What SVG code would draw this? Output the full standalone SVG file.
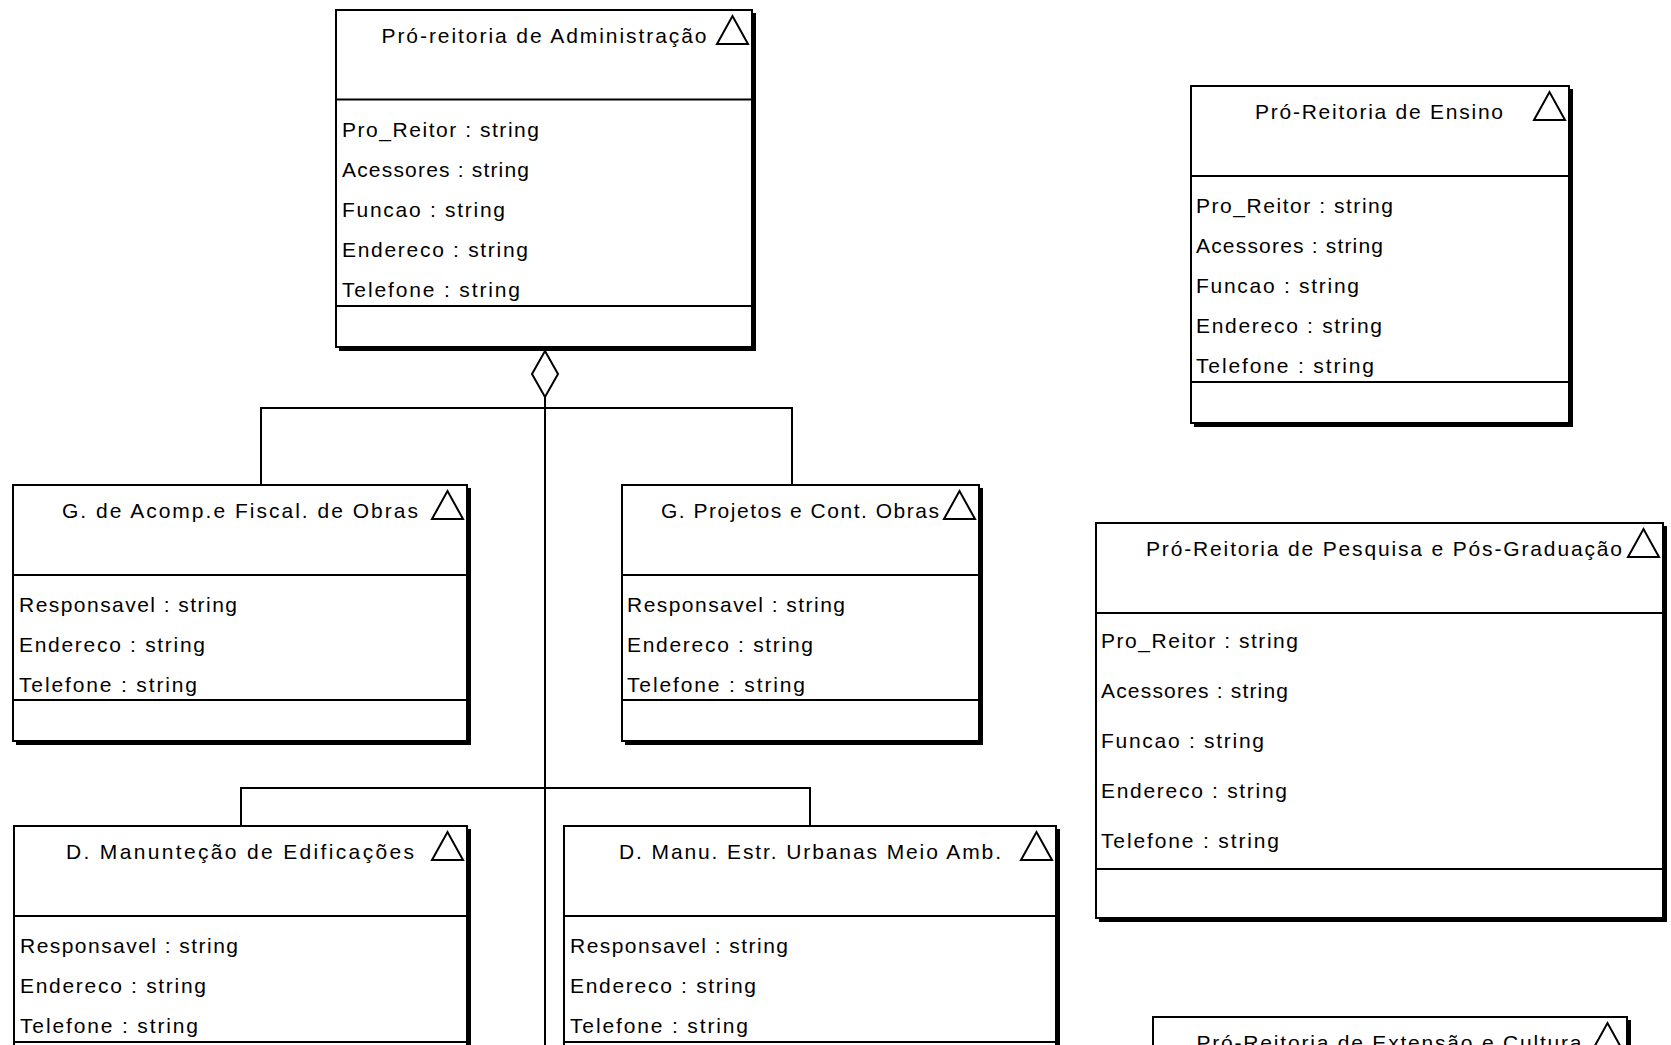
<svg xmlns="http://www.w3.org/2000/svg" width="1671" height="1045" viewBox="0 0 1671 1045">
<style>
.bg{fill:#fff}
.box{fill:#fff;stroke:#000;stroke-width:2}
.sh{fill:none;stroke:#000;stroke-width:3}
.sep{stroke:#000;stroke-width:2}
.tri{fill:none;stroke:#000;stroke-width:2;stroke-linejoin:miter}
.t{font-family:"Liberation Sans",Arial,sans-serif;font-size:21px;fill:#000}
.ti{text-anchor:middle}
.con{fill:none;stroke:#000;stroke-width:2}
.dia{fill:#fff;stroke:#000;stroke-width:2}
</style>
<rect class="bg" x="0" y="0" width="1671" height="1045"/>

<g id="connectors">
  <line class="con" x1="545" y1="397" x2="545" y2="1046"/>
  <polyline class="con" points="261,485 261,408 792,408 792,485"/>
  <polyline class="con" points="241,826 241,788 810,788 810,826"/>
  <polygon class="dia" points="545,351 558,374 545,397 532,374"/>
</g>

<g id="admin">
  <rect class="box" x="336" y="10" width="416" height="337"/>
  <path class="sh" d="M754.5,13 V349.5 H339"/>
  <line class="sep" x1="336" y1="99.5" x2="752" y2="99.5"/>
  <line class="sep" x1="336" y1="306" x2="752" y2="306"/>
  <text class="t ti" x="544" y="43" textLength="325" lengthAdjust="spacing">Pró-reitoria de Administração</text>
  <polygon class="tri" points="717,44 732.5,16 748,44"/>
  <text class="t" x="342" y="137" textLength="197" lengthAdjust="spacing">Pro_Reitor : string</text>
  <text class="t" x="342" y="177" textLength="187" lengthAdjust="spacing">Acessores : string</text>
  <text class="t" x="342" y="217" textLength="163" lengthAdjust="spacing">Funcao : string</text>
  <text class="t" x="342" y="257" textLength="186" lengthAdjust="spacing">Endereco : string</text>
  <text class="t" x="342" y="297" textLength="178" lengthAdjust="spacing">Telefone : string</text>
</g>

<g id="g-acomp">
  <rect class="box" x="13" y="485" width="454" height="256"/>
  <path class="sh" d="M469.5,488 V743.5 H16"/>
  <line class="sep" x1="13" y1="575" x2="467" y2="575"/>
  <line class="sep" x1="13" y1="700" x2="467" y2="700"/>
  <text class="t ti" x="240" y="518" textLength="356" lengthAdjust="spacing">G. de Acomp.e Fiscal. de Obras</text>
  <polygon class="tri" points="432,519 447.5,491 463,519"/>
  <text class="t" x="19" y="612" textLength="218" lengthAdjust="spacing">Responsavel : string</text>
  <text class="t" x="19" y="652" textLength="186" lengthAdjust="spacing">Endereco : string</text>
  <text class="t" x="19" y="692" textLength="178" lengthAdjust="spacing">Telefone : string</text>
</g>

<g id="g-projetos">
  <rect class="box" x="622" y="485" width="357" height="256"/>
  <path class="sh" d="M981.5,488 V743.5 H625"/>
  <line class="sep" x1="622" y1="575" x2="979" y2="575"/>
  <line class="sep" x1="622" y1="700" x2="979" y2="700"/>
  <text class="t ti" x="800" y="518" textLength="278" lengthAdjust="spacing">G. Projetos e Cont. Obras</text>
  <polygon class="tri" points="944,519 959.5,491 975,519"/>
  <text class="t" x="627" y="612" textLength="218" lengthAdjust="spacing">Responsavel : string</text>
  <text class="t" x="627" y="652" textLength="186" lengthAdjust="spacing">Endereco : string</text>
  <text class="t" x="627" y="692" textLength="178" lengthAdjust="spacing">Telefone : string</text>
</g>

<g id="d-manutencao">
  <rect class="box" x="14" y="826" width="453" height="257"/>
  <path class="sh" d="M469.5,829 V1085.5 H17"/>
  <line class="sep" x1="14" y1="916" x2="467" y2="916"/>
  <line class="sep" x1="14" y1="1042" x2="467" y2="1042"/>
  <text class="t ti" x="240" y="859" textLength="348" lengthAdjust="spacing">D. Manunteção de Edificações</text>
  <polygon class="tri" points="432,860 447.5,832 463,860"/>
  <text class="t" x="20" y="953" textLength="218" lengthAdjust="spacing">Responsavel : string</text>
  <text class="t" x="20" y="993" textLength="186" lengthAdjust="spacing">Endereco : string</text>
  <text class="t" x="20" y="1033" textLength="178" lengthAdjust="spacing">Telefone : string</text>
</g>

<g id="d-urbanas">
  <rect class="box" x="564" y="826" width="492" height="257"/>
  <path class="sh" d="M1058.5,829 V1085.5 H567"/>
  <line class="sep" x1="564" y1="916" x2="1056" y2="916"/>
  <line class="sep" x1="564" y1="1042" x2="1056" y2="1042"/>
  <text class="t ti" x="810" y="859" textLength="382" lengthAdjust="spacing">D. Manu. Estr. Urbanas Meio Amb.</text>
  <polygon class="tri" points="1021,860 1036.5,832 1052,860"/>
  <text class="t" x="570" y="953" textLength="218" lengthAdjust="spacing">Responsavel : string</text>
  <text class="t" x="570" y="993" textLength="186" lengthAdjust="spacing">Endereco : string</text>
  <text class="t" x="570" y="1033" textLength="178" lengthAdjust="spacing">Telefone : string</text>
</g>

<g id="ensino">
  <rect class="box" x="1191" y="86" width="378" height="337"/>
  <path class="sh" d="M1571.5,89 V425.5 H1194"/>
  <line class="sep" x1="1191" y1="176" x2="1569" y2="176"/>
  <line class="sep" x1="1191" y1="382" x2="1569" y2="382"/>
  <text class="t ti" x="1379" y="119" textLength="248" lengthAdjust="spacing">Pró-Reitoria de Ensino</text>
  <polygon class="tri" points="1534,120 1549.5,92 1565,120"/>
  <text class="t" x="1196" y="213" textLength="197" lengthAdjust="spacing">Pro_Reitor : string</text>
  <text class="t" x="1196" y="253" textLength="187" lengthAdjust="spacing">Acessores : string</text>
  <text class="t" x="1196" y="293" textLength="163" lengthAdjust="spacing">Funcao : string</text>
  <text class="t" x="1196" y="333" textLength="186" lengthAdjust="spacing">Endereco : string</text>
  <text class="t" x="1196" y="373" textLength="178" lengthAdjust="spacing">Telefone : string</text>
</g>

<g id="pesquisa">
  <rect class="box" x="1096" y="523" width="567" height="395"/>
  <path class="sh" d="M1665.5,526 V920.5 H1099"/>
  <line class="sep" x1="1096" y1="613" x2="1663" y2="613"/>
  <line class="sep" x1="1096" y1="869" x2="1663" y2="869"/>
  <text class="t ti" x="1384" y="556" textLength="476" lengthAdjust="spacing">Pró-Reitoria de Pesquisa e Pós-Graduação</text>
  <polygon class="tri" points="1628,557 1643.5,529 1659,557"/>
  <text class="t" x="1101" y="648" textLength="197" lengthAdjust="spacing">Pro_Reitor : string</text>
  <text class="t" x="1101" y="698" textLength="187" lengthAdjust="spacing">Acessores : string</text>
  <text class="t" x="1101" y="748" textLength="163" lengthAdjust="spacing">Funcao : string</text>
  <text class="t" x="1101" y="798" textLength="186" lengthAdjust="spacing">Endereco : string</text>
  <text class="t" x="1101" y="848" textLength="178" lengthAdjust="spacing">Telefone : string</text>
</g>

<g id="extensao">
  <rect class="box" x="1153" y="1017" width="474" height="300"/>
  <path class="sh" d="M1629.5,1020 V1320"/>
  <text class="t ti" x="1389" y="1050" textLength="385" lengthAdjust="spacing">Pró-Reitoria de Extensão e Cultura</text>
  <polygon class="tri" points="1592,1051 1607.5,1023 1623,1051"/>
</g>
</svg>
